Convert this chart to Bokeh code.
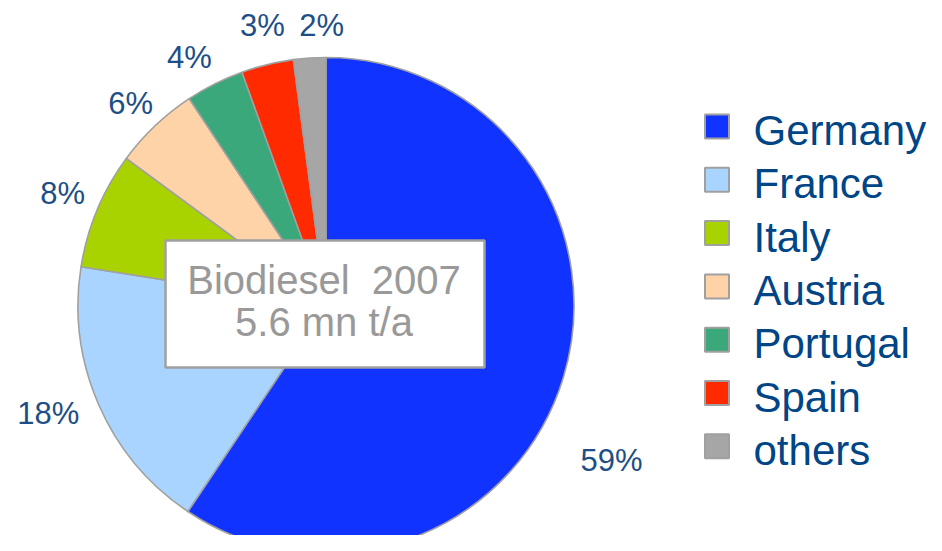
import math
from bokeh.plotting import figure
from bokeh.models import Range1d, ColumnDataSource
from bokeh.core.properties import value
from bokeh.embed import file_html
from bokeh.resources import INLINE

# ---- data ----
countries = ["Germany", "France", "Italy", "Austria", "Portugal", "Spain", "others"]
shares = [59.4, 18.1, 7.6, 5.6, 3.8, 3.4, 2.1]   # % of EU biodiesel production 2007
colors = ["#1033ff", "#a8d4ff", "#a8d200", "#ffd3a8", "#3aa87a", "#ff2a00", "#a6a6a6"]
title_lines = ["Biodiesel\u00a0 2007", "5.6 mn t/a"]
pct_labels = [f"{round(s)}%" for s in shares]

# ---- layout (pixels from the top-left of the figure) ----
W, H = 926, 535
def sy(y):  # pixel y (down) -> data y (up)
    return H - y

cx, cy = 325.5, sy(305)
R = 248
label_shift_deg = [11.6, 2.3, 0.3, -0.5, -2.2, 0.9, 2.9]
label_radius = [325, 298, 286, 281, 283, 287, 280]

p = figure(width=W, height=H, x_range=Range1d(0, W), y_range=Range1d(0, H),
           output_backend="svg", toolbar_location=None, min_border=0)
p.axis.visible = False
p.grid.visible = False
p.outline_line_color = None
p.background_fill_color = "white"

total = float(sum(shares))
starts, ends, lx, ly = [], [], [], []
cum = 0.0
for i, s in enumerate(shares):
    f0 = cum / total
    cum += s
    f1 = cum / total
    starts.append(math.pi / 2 - 2 * math.pi * f0)
    ends.append(math.pi / 2 - 2 * math.pi * f1)
    th = 2 * math.pi * (f0 + f1) / 2 + math.radians(label_shift_deg[i])
    lx.append(cx + label_radius[i] * math.sin(th))
    ly.append(cy + label_radius[i] * math.cos(th))

src = ColumnDataSource(dict(start=starts, end=ends, color=colors, lx=lx, ly=ly, lab=pct_labels))
p.wedge(x=cx, y=cy, radius=R, start_angle="start", end_angle="end", direction="clock",
        fill_color="color", line_color="#a0a0a0", line_width=1.6, source=src)

p.text(x="lx", y="ly", text="lab", source=src, text_font=value("Liberation Sans"),
       text_font_size="31px", text_color="#1d4f86", text_align="center", text_baseline="middle")

# center box
p.rect(x=cx - 1, y=cy + 1.5, width=319, height=127, width_units="screen", height_units="screen",
       fill_color="white", line_color="#a0a0a0", line_width=2.5)
p.text(x=[cx - 2, cx - 2], y=[sy(279), sy(321)], text=title_lines, text_font=value("Liberation Sans"),
       text_font_size="40px", text_color="#999999", text_align="center", text_baseline="middle")

# legend
row0, dy = 130, 53.3
leg_src = ColumnDataSource(dict(
    sx=[716.5] * len(countries),
    sy=[sy(row0 - 4 + dy * i) for i in range(len(countries))],
    tx=[753] * len(countries),
    ty=[sy(row0 + dy * i) for i in range(len(countries))],
    name=countries, color=colors))
p.rect(x="sx", y="sy", width=24, height=24, width_units="screen", height_units="screen",
       fill_color="color", line_color="#a0a0a0", line_width=2, source=leg_src)
p.text(x="tx", y="ty", text="name", source=leg_src, text_font=value("Liberation Sans"),
       text_font_size="42px", text_color="#004586", text_align="left", text_baseline="middle")

open("out.html", "w").write(file_html(p, INLINE))
